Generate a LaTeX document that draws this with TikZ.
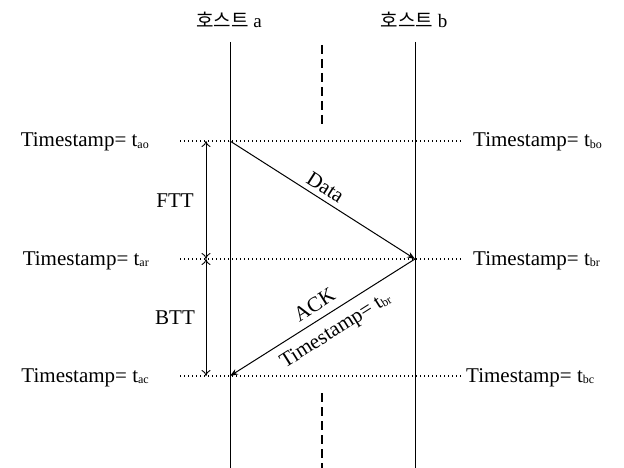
\documentclass[tikz,border=0pt]{standalone}
\usepackage{fontspec}
\setmainfont{Liberation Serif}
\newfontfamily\kr{Noto Sans CJK KR}
\usetikzlibrary{arrows.meta}
\newcommand{\tsub}[1]{\raisebox{-0.15ex}{\fontsize{12}{12}\selectfont #1}}
\begin{document}
\begin{tikzpicture}[x=1pt,y=-1pt,
  lbl/.style={font=\fontsize{21}{22}\selectfont, inner sep=0pt},
  host/.style={font=\fontsize{19}{20}\selectfont, inner sep=0pt},
  life/.style={line width=1pt},
  mid/.style={line width=2.2pt, dash pattern=on 9pt off 5pt},
  dots/.style={line width=1.4pt, dash pattern=on 1.4pt off 2.6pt},
  msg/.style={line width=1pt, -{Stealth[length=8pt,width=6pt]}},
  span/.style={line width=0.9pt, {To[length=6pt,width=9pt]}-{To[length=6pt,width=9pt]}}]
\useasboundingbox (0,0) rectangle (624,468);
% hosts
\node[host] (ha) at (229,20) {{\kr 호스트} a};
\node[host] (hb) at (414,20) {{\kr 호스트} b};
\coordinate (a0) at (230,42);
\coordinate (a4) at (230,468);
\coordinate (b0) at (415,42);
\coordinate (b4) at (415,468);
\coordinate (a1) at (230,141);
\coordinate (a2) at (230,259);
\coordinate (a3) at (230,376);
\coordinate (b1) at (415,141);
\coordinate (b2) at (415,259);
\coordinate (b3) at (415,376);
\draw[life] (a0) -- (a4);
\draw[life] (b0) -- (b4);
% center dashed
\coordinate (m0) at (322,45);
\coordinate (m1) at (322,126);
\coordinate (m2) at (322,393);
\coordinate (m3) at (322,468);
\draw[mid] (m0) -- (m1);
\draw[mid] (m2) -- (m3);
% dotted time lines
\coordinate (l1) at (180,141); \coordinate (r1) at (461,141);
\coordinate (l2) at (180,259); \coordinate (r2) at (461,259);
\coordinate (l3) at (180,376); \coordinate (r3) at (461,376);
\draw[dots] (l1) -- (r1);
\draw[dots] (l2) -- (r2);
\draw[dots] (l3) -- (r3);
% labels
\node[lbl, anchor=base east] (ta1) at (149,147) {Timestamp= t\tsub{ao}};
\node[lbl, anchor=base east] (ta2) at (149,265) {Timestamp= t\tsub{ar}};
\node[lbl, anchor=base east] (ta3) at (149,382) {Timestamp= t\tsub{ac}};
\node[lbl, anchor=base west] (tb1) at (473,147) {Timestamp= t\tsub{bo}};
\node[lbl, anchor=base west] (tb2) at (473,265) {Timestamp= t\tsub{br}};
\node[lbl, anchor=base west] (tb3) at (466,382) {Timestamp= t\tsub{bc}};
% spans
\coordinate (s1) at (206,141);
\coordinate (s2) at (206,259);
\coordinate (s3) at (206,376);
\draw[span] (s1) -- (s2);
\draw[span] (s2) -- (s3);
\node[lbl] (ftt) at (175,201) {FTT};
\node[lbl] (btt) at (175,318) {BTT};
% messages
\draw[msg] (a1) -- (b2) node[lbl, pos=0.48, sloped, above=5pt] (data) {Data};
\draw[msg] (b2) -- (a3);
\path (a3) -- (b2) node[lbl, pos=0.5, sloped, above=8pt] (ack) {ACK}
                   node[lbl, pos=0.52, sloped, below=9pt] (ts) {Timestamp= t\tsub{br}};
\end{tikzpicture}
\end{document}
